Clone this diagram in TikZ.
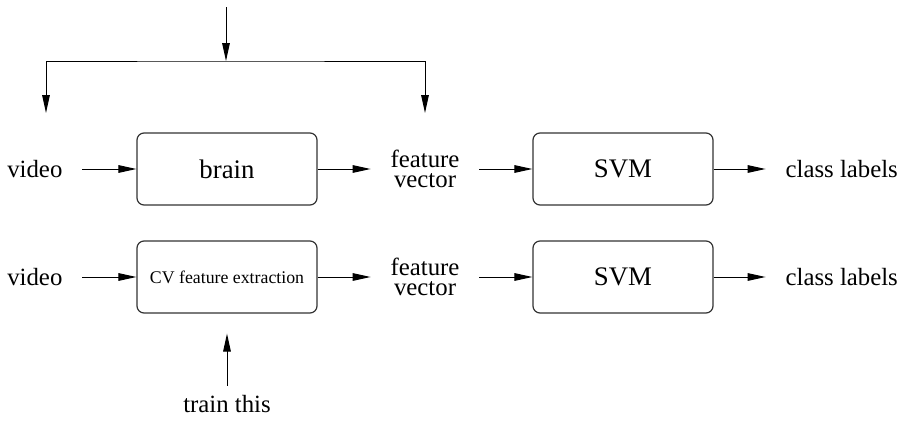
\documentclass[tikz,border=0pt]{standalone}
\usepackage{fontspec}
\setmainfont{Liberation Serif}
\usetikzlibrary{arrows.meta, positioning}
\tikzset{
	block/.style={rectangle, rounded corners=3.5pt, draw=black!80, line width=0.6pt, align=center, minimum width=90pt, minimum height=36pt, inner sep=0pt, font=\fontsize{13.4}{15}\selectfont},
	smallblock/.style={block, font=\fontsize{8.9}{10.5}\selectfont},
	tag/.style={inner xsep=10pt, inner ysep=0pt, outer sep=0pt, align=center, font=\fontsize{12.4}{10}\selectfont},
	arrow/.style={-{Triangle[length=9pt, width=3.8pt]}, line width=0.5pt},
	splitarrow/.style={{Triangle[length=9pt, width=3.8pt]}-{Triangle[length=9pt, width=3.8pt]}, line width=0.5pt},
}
\begin{document}
\begin{tikzpicture}[x=0.5pt, y=-0.5pt, node distance=27pt]
	\useasboundingbox (0,0) rectangle (902,423);
	\node[block] (brain) at (227,169) {brain};
	\node[block] (svmtop) at (623,169) {SVM};
	\node[smallblock] (cv) at (227,277) {CV feature extraction};
	\node[block] (svmbot) at (623,277) {SVM};
	\node[tag, left=of brain] (videotop) {video};
	\node[tag, right=26.5pt of brain] (feattop) {feature\\vector};
	\node[tag, right=26pt of svmtop] (classtop) {class labels};
	\node[tag, left=of cv] (videobot) {video};
	\node[tag, right=26.5pt of cv] (featbot) {feature\\vector};
	\node[tag, right=26pt of svmbot] (classbot) {class labels};
	\node[tag, inner ysep=5pt, below=36pt of cv] (train) {train this};
	% shared input, split to both ends
	\coordinate (src) at (226,7);
	\coordinate (fork) at (226,61);
	\coordinate (inleft) at (46,113);
	\coordinate (inright) at (425,113);
	\draw[arrow] (src) -- (fork);
	\draw[splitarrow] (inleft) |- (fork) -| (inright);
	\foreach \a/\b in {videotop/brain, brain/feattop, feattop/svmtop, svmtop/classtop, videobot/cv, cv/featbot, featbot/svmbot, svmbot/classbot}{\draw[arrow] (\a) -- (\b);}
	\draw[arrow, shorten >=10pt] (train) -- (cv);
\end{tikzpicture}
\end{document}
